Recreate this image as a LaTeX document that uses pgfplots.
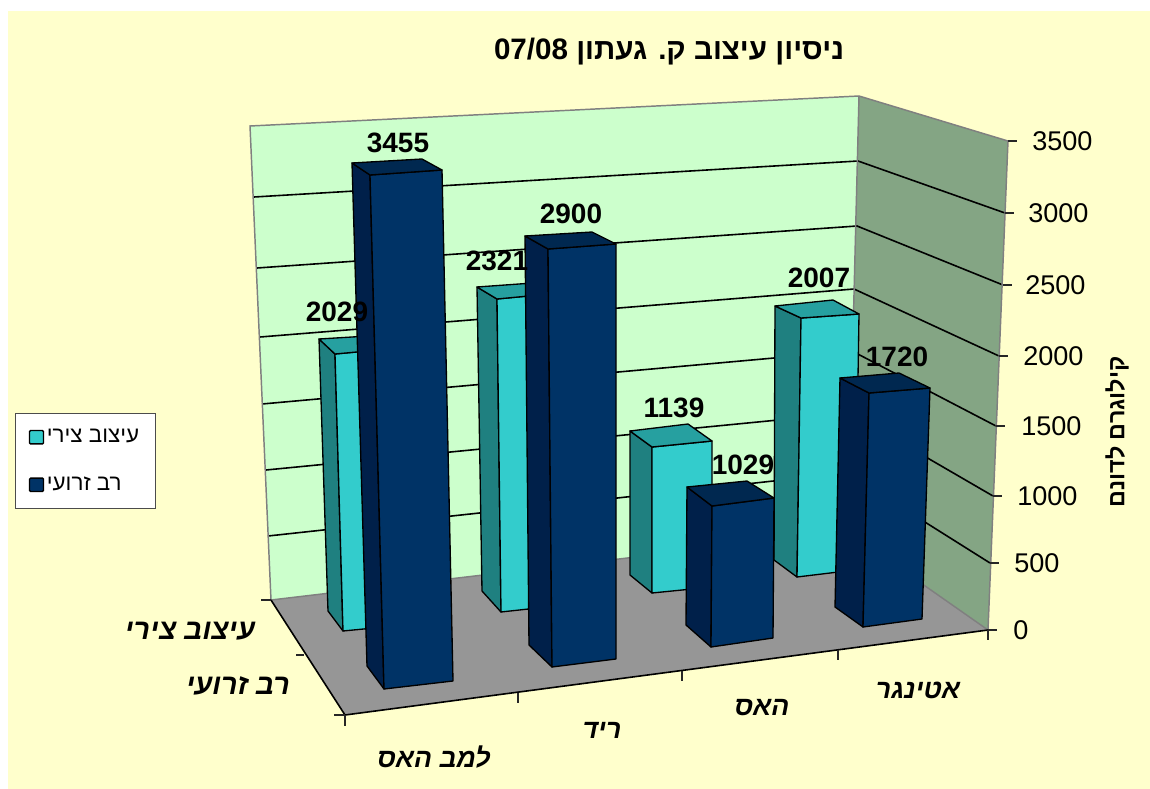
\documentclass[border=0pt]{standalone}
\usepackage{pgfplots}
\pgfplotsset{compat=1.18}
\usepackage{pgfplotstable}
\usepackage{fontspec}
\setmainfont{Liberation Sans}
\newfontfamily\hb[Script=Hebrew]{Liberation Sans}
\TeXXeTstate=1

\definecolor{paper}{HTML}{FFFFCC}
\definecolor{wallback}{HTML}{CCFFCC}
\definecolor{wallside}{HTML}{84A584}
\definecolor{floorgrey}{HTML}{969696}
\definecolor{cyanfront}{HTML}{33CCCC}
\definecolor{cyanside}{HTML}{1F8080}
\definecolor{cyantop}{HTML}{26A0A0}
\definecolor{navyfront}{HTML}{003366}
\definecolor{navyside}{HTML}{00204A}
\definecolor{navytop}{HTML}{002850}

% the chart is a 3D perspective view, so everything is in picture pixels (y down)
% 1px = 0.75pt
\pgfplotstableread{
x y label
398 143 3455
337 312 2029
497 261 2321
571 214 2900
674 408 1139
743 465 1029
819 278 2007
897 357 1720
}\valuelabels

\pgfplotstableread{
x y label
1032 141 3500
1028 213 3000
1025 285 2500
1023 356 2000
1021 426 1500
1017 496 1000
1014 563 500
1013 630 0
}\ticklabelsz

\pgfplotsset{
  face/.style={fill=#1, draw=black, line width=1pt, forget plot, line join=round},
  grid line/.style={draw=black, line width=1.2pt, forget plot},
  edge line/.style={draw=black!50, line width=1.1pt, forget plot},
  tick line/.style={draw=black!85, line width=0.8pt, forget plot},
}

\begin{document}
\begin{tikzpicture}
\begin{axis}[
  scale only axis, width=862.5pt, height=591.75pt,
  xmin=0, xmax=1150, ymin=0, ymax=789, y dir=reverse,
  axis lines=none, clip=false,
  legend style={at={(axis cs:15,413)}, anchor=north west, draw=black!70, line width=0.8pt,
    fill=white, font=\fontsize{16.8}{20}\selectfont, inner xsep=10pt, inner ysep=10pt,
    /tikz/row sep=20pt, cells={anchor=west}},
  legend image code/.code={\draw[#1, line width=1pt, rounded corners=0.8pt] (0pt,-5pt) rectangle (10.5pt,5pt);},
]
% backdrop
\addplot[fill=white, draw=none, forget plot] coordinates {(0,0) (1150,0) (1150,789) (0,789)} --cycle;
\addplot[fill=paper, draw=none, forget plot] coordinates {(8,11) (1150,11) (1150,789) (8,789)} --cycle;

% walls and floor
\addplot[fill=wallback, draw=none, forget plot] coordinates {(250,126) (859,96) (848,532) (271,600)} --cycle;
\addplot[fill=wallside, draw=none, forget plot] coordinates {(859,96) (1008,141) (988,630) (848,532)} --cycle;
\addplot[fill=floorgrey, draw=none, forget plot] coordinates {(271,600) (848,532) (988,630) (345,715)} --cycle;

% grid, back wall then side wall, 500 to 3000
\addplot[grid line] coordinates {(268,536) (847,473) (990,563)};
\addplot[grid line] coordinates {(266,470) (850,413) (993,496)};
\addplot[grid line] coordinates {(262,404) (852,351) (996,426)};
\addplot[grid line] coordinates {(260,337) (854,289) (999,356)};
\addplot[grid line] coordinates {(257,268) (857,226) (1003,285)};
\addplot[grid line] coordinates {(254,197) (858,161) (1005,213)};

% wall edges
\addplot[edge line] coordinates {(271,600) (250,126) (859,96) (1008,141) (988,630)};
\addplot[edge line] coordinates {(859,96) (848,532)};
\addplot[edge line] coordinates {(271,600) (848,532) (988,630)};

% floor front edges and ticks
\addplot[grid line] coordinates {(271,600) (345,715) (988,630)};
\addplot[tick line] coordinates {(1008,141) (1017,141)};
\addplot[tick line] coordinates {(1005,213) (1014,213)};
\addplot[tick line] coordinates {(1003,285) (1012,285)};
\addplot[tick line] coordinates {(999,356) (1008,356)};
\addplot[tick line] coordinates {(996,426) (1005,426)};
\addplot[tick line] coordinates {(993,496) (1002,496)};
\addplot[tick line] coordinates {(990,563) (999,563)};
\addplot[tick line] coordinates {(988,630) (997,630)};
\addplot[tick line] coordinates {(345,715) (345,726)};
\addplot[tick line] coordinates {(518,693) (518,703)};
\addplot[tick line] coordinates {(682,671) (682,681)};
\addplot[tick line] coordinates {(838,650) (838,660)};
\addplot[tick line] coordinates {(988,630) (988,640)};
\addplot[tick line] coordinates {(271,600) (261,600)};
\addplot[tick line] coordinates {(304,655) (296,655)};
\addplot[tick line] coordinates {(345,715) (334,715)};

% back row: 2007
\addplot[face=cyanside] coordinates {(775,306) (801,318) (797,577) (774,560)} --cycle;
\addplot[face=cyanfront] coordinates {(801,318) (859,314) (855,570) (797,577)} --cycle;
\addplot[face=cyantop] coordinates {(775,306) (833,300) (859,314) (801,318)} --cycle;
% 1139
\addplot[face=cyanside] coordinates {(630,431) (652,447) (652,593) (630,575)} --cycle;
\addplot[face=cyanfront] coordinates {(652,447) (712,441) (712,587) (652,593)} --cycle;
\addplot[face=cyantop] coordinates {(630,431) (688,424) (712,441) (652,447)} --cycle;
% 2321
\addplot[face=cyanside] coordinates {(477,287) (497,299) (501,612) (482,591)} --cycle;
\addplot[face=cyanfront] coordinates {(497,299) (560,293) (565,605) (501,612)} --cycle;
\addplot[face=cyantop] coordinates {(477,287) (547,282) (560,293) (497,299)} --cycle;
% 2029
\addplot[face=cyanside] coordinates {(319,339) (335,354) (343,631) (328,611)} --cycle;
\addplot[face=cyanfront] coordinates {(335,354) (400,348) (405,625) (343,631)} --cycle;
\addplot[face=cyantop] coordinates {(319,339) (385,335) (400,348) (335,354)} --cycle;

% front row: 1720
\addplot[face=navyside] coordinates {(840,378) (869,393) (863,627) (835,607)} --cycle;
\addplot[face=navyfront] coordinates {(869,393) (930,388) (922,619) (863,627)} --cycle;
\addplot[face=navytop] coordinates {(840,378) (899,373) (930,388) (869,393)} --cycle;
% 1029
\addplot[face=navyside] coordinates {(687,487) (712,506) (711,647) (686,625)} --cycle;
\addplot[face=navyfront] coordinates {(712,506) (774,498) (773,638) (711,647)} --cycle;
\addplot[face=navytop] coordinates {(687,487) (747,481) (774,498) (712,506)} --cycle;
% 2900
\addplot[face=navyside] coordinates {(525,236) (548,249) (552,667) (529,645)} --cycle;
\addplot[face=navyfront] coordinates {(548,249) (616,244) (616,659) (552,667)} --cycle;
\addplot[face=navytop] coordinates {(525,236) (592,232) (616,244) (548,249)} --cycle;
% 3455
\addplot[face=navyside] coordinates {(352,163) (370,175) (384,689) (367,666)} --cycle;
\addplot[face=navyfront] coordinates {(370,175) (442,170) (453,681) (384,689)} --cycle;
\addplot[face=navytop] coordinates {(352,163) (422,159) (442,170) (370,175)} --cycle;

% numbers
\addplot[draw=none, mark=none, forget plot, point meta=explicit symbolic,
  nodes near coords, nodes near coords style={anchor=center, inner sep=0pt, font=\fontsize{21}{24}\selectfont\bfseries}]
  table[x=x, y=y, meta=label] {\valuelabels};
\addplot[draw=none, mark=none, forget plot, point meta=explicit symbolic,
  nodes near coords, nodes near coords style={anchor=west, inner sep=0pt, font=\fontsize{20.3}{24}\selectfont}]
  table[x=x, y=y, meta=label] {\ticklabelsz};

% title and axis names
\node[font=\hb\fontsize{22.2}{26}\selectfont\bfseries] at (axis cs:669,52) {\beginR ניסיון עיצוב ק. געתון \beginL 07/08\endL\endR};
\node[rotate=90, font=\hb\fontsize{17.5}{20}\selectfont\bfseries] at (axis cs:1117,432) {\beginR קילוגרם לדונם\endR};
\node[font=\hb\fontsize{20}{24}\selectfont\bfseries\itshape] at (axis cs:434,757) {\beginR למב האס\endR};
\node[font=\hb\fontsize{20}{24}\selectfont\bfseries\itshape] at (axis cs:602,730) {\beginR ריד\endR};
\node[font=\hb\fontsize{20}{24}\selectfont\bfseries\itshape] at (axis cs:762,708) {\beginR האס\endR};
\node[font=\hb\fontsize{20}{24}\selectfont\bfseries\itshape] at (axis cs:918,690) {\beginR אטינגר\endR};
\node[font=\hb\fontsize{21.5}{24}\selectfont\bfseries\itshape] at (axis cs:190,631) {\beginR עיצוב צירי\endR};
\node[font=\hb\fontsize{21.5}{24}\selectfont\bfseries\itshape] at (axis cs:238,686) {\beginR רב זרועי\endR};

\addlegendimage{fill=cyanfront, draw=black}
\addlegendentry{\hb\beginR עיצוב צירי\endR}
\addlegendimage{fill=navyfront, draw=black}
\addlegendentry{\hb\beginR רב זרועי\endR}
\end{axis}
\end{tikzpicture}
\end{document}
